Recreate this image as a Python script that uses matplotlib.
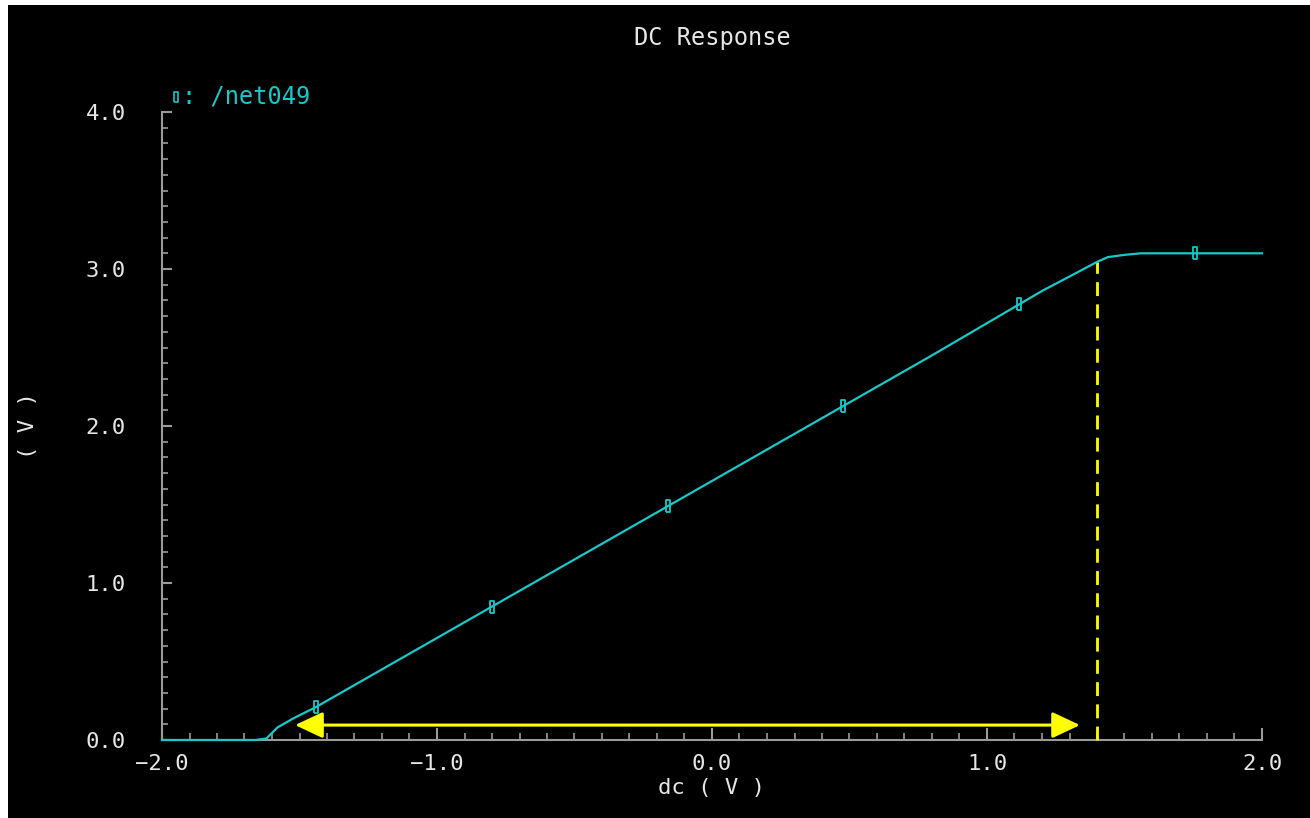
import numpy as np
import matplotlib
matplotlib.use("Agg")
import matplotlib.pyplot as plt
from matplotlib.patches import Rectangle
from matplotlib.ticker import MultipleLocator, FuncFormatter

# DC sweep of /net049
dc_in = [-2.0, -1.66, -1.62, -1.58, -1.52, -1.44, -1.2, -0.8, -0.4, 0.0,
         0.4, 0.8, 1.2, 1.33, 1.40, 1.44, 1.50, 1.56, 2.0]
net049 = [0.0, 0.0, 0.01, 0.08, 0.14, 0.21, 0.45, 0.85, 1.25, 1.65,
          2.05, 2.45, 2.86, 2.98, 3.045, 3.076, 3.09, 3.10, 3.10]
marker_x = [-1.44, -0.80, -0.16, 0.476, 1.116, 1.756]

# annotation: usable swing range
arrow_y = 0.095
arrow_start = -1.516
arrow_end = 1.338
limit_x = 1.40

CYAN = "#19c8c8"
YELLOW = "#ffff00"
AXIS = "#9a9a9a"
TEXT = "#e6e6e6"
FONT = "DejaVu Sans Mono"

W, H = 1310, 818
fig = plt.figure(figsize=(W / 100, H / 100), dpi=100, facecolor="white")
fig.patches.append(Rectangle((8 / W, 0), 1, 1 - 5 / H, transform=fig.transFigure,
                             facecolor="black", edgecolor="none", zorder=-5))

ax = fig.add_axes([162 / W, 1 - 740 / H, 1100 / W, 628 / H])
ax.set_facecolor("none")

rect = [(-0.4, -1), (0.4, -1), (0.4, 1), (-0.4, 1), (-0.4, -1)]
ax.plot(dc_in, net049, color=CYAN, lw=1.6, zorder=4, clip_on=False)
ax.plot(marker_x, np.interp(marker_x, dc_in, net049), ls="none", marker=rect,
        markersize=8, mfc="none", mec=CYAN, mew=1.3, zorder=4)

ax.plot([limit_x, limit_x], [0, np.interp(limit_x, dc_in, net049)],
        color=YELLOW, lw=2, ls=(0, (5, 3)), zorder=3, clip_on=False)
ax.annotate("", xy=(arrow_end, arrow_y), xytext=(arrow_start, arrow_y),
            arrowprops=dict(arrowstyle="<|-|>,head_length=0.85,head_width=0.4",
                            color=YELLOW, lw=2.2, shrinkA=0, shrinkB=0,
                            mutation_scale=20), zorder=5)

ax.set_xlim(-2, 2)
ax.set_ylim(0, 4)
fmt = FuncFormatter(lambda v, p: f"{v:.1f}".replace("-", "\u2212"))
ax.xaxis.set_major_locator(MultipleLocator(1.0))
ax.xaxis.set_minor_locator(MultipleLocator(0.1))
ax.yaxis.set_major_locator(MultipleLocator(1.0))
ax.yaxis.set_minor_locator(MultipleLocator(0.1))
ax.xaxis.set_major_formatter(fmt)
ax.yaxis.set_major_formatter(fmt)

for s in ["top", "right"]:
    ax.spines[s].set_visible(False)
for s in ["left", "bottom"]:
    ax.spines[s].set_color(AXIS)
    ax.spines[s].set_linewidth(1.5)

ax.tick_params(axis="x", which="major", direction="in", length=9, width=1.5,
               color=AXIS, labelcolor=TEXT, labelsize=16, pad=10)
ax.tick_params(axis="x", which="minor", direction="in", length=5, width=1.2, color=AXIS)
ax.tick_params(axis="y", which="major", direction="in", length=7, width=1.5,
               color=AXIS, labelcolor=TEXT, labelsize=16, pad=26)
ax.tick_params(axis="y", which="minor", direction="in", length=4, width=1.2, color=AXIS)
for lab in ax.get_xticklabels() + ax.get_yticklabels():
    lab.set_family(FONT)

ax.set_xlabel("dc ( V )", color=TEXT, fontsize=16, family=FONT, va="center")
ax.xaxis.set_label_coords(0.5, -(788 - 740) / 628)
ax.set_ylabel("( V )", color=TEXT, fontsize=16, family=FONT, va="center")
ax.yaxis.set_label_coords(-(162 - 28) / 1100, 0.5)

fig.text(712 / W, 1 - 38 / H, "DC Response", color=TEXT, fontsize=17,
         family=FONT, ha="center", va="center")

# legend entry
ax.plot([(176 - 162) / 1100], [(740 - 97) / 628], transform=ax.transAxes,
        marker=rect, markersize=7, mfc="none", mec=CYAN, mew=1.2, clip_on=False)
fig.text(182 / W, 1 - 97 / H, ": /net049", color=CYAN, fontsize=17,
         family=FONT, ha="left", va="center")

fig.savefig("out.png", dpi=100, facecolor="white")
